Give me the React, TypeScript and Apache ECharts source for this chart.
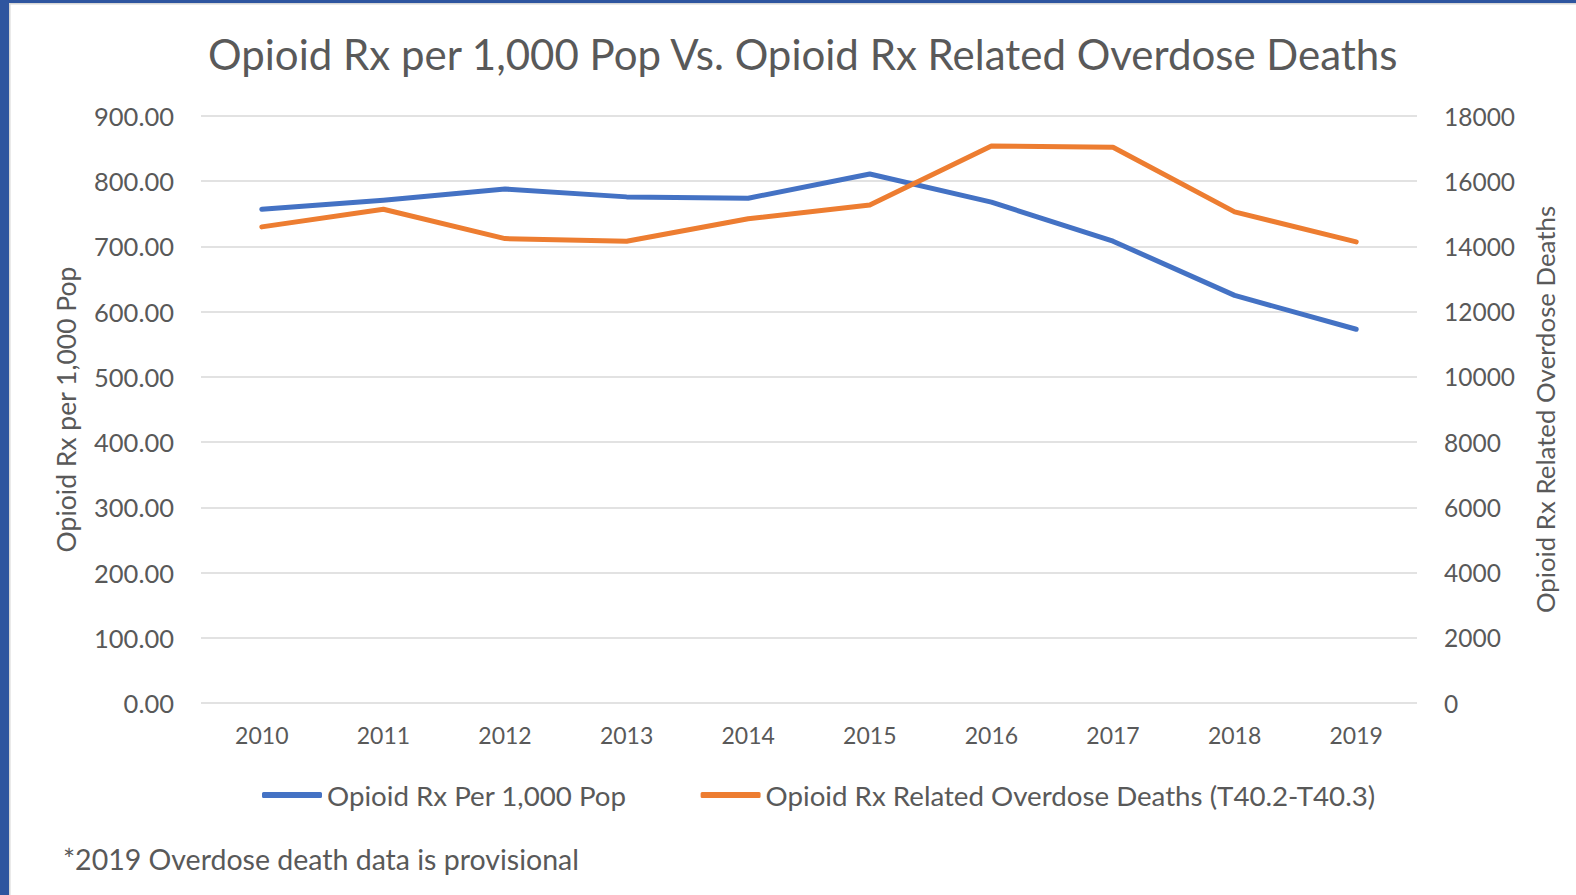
import React, { useEffect, useRef } from "react";
import * as echarts from "echarts";

const years = ["2010", "2011", "2012", "2013", "2014", "2015", "2016", "2017", "2018", "2019"];
const rxPer1000 = [757, 771, 788, 776, 774, 811, 768, 708, 625, 573];
const overdoseDeaths = [14600, 15140, 14240, 14160, 14850, 15270, 17080, 17040, 15060, 14140];

const titleText = "Opioid Rx per 1,000 Pop Vs. Opioid Rx Related Overdose Deaths";
const leftName = "Opioid Rx per 1,000 Pop";
const rightName = "Opioid Rx Related Overdose Deaths";
const seriesNames = ["Opioid Rx Per 1,000 Pop", "Opioid Rx Related Overdose Deaths (T40.2-T40.3)"];
const footnote = "*2019 Overdose death data is provisional";

const FONT = "Lato";
const TXT = "#595959";

export default function App() {
  const ref = useRef<HTMLDivElement>(null);
  useEffect(() => {
    const chart = echarts.init(ref.current!, null, { renderer: "svg" });
    chart.setOption({
      animation: false,
      backgroundColor: "#ffffff",
      textStyle: { fontFamily: FONT, color: TXT },
      title: {
        text: titleText,
        left: 203,
        top: 28,
        textStyle: { fontFamily: FONT, fontSize: 42, fontWeight: "normal", color: TXT },
      },
      grid: { left: 201, right: 159, top: 116, bottom: 192 },
      legend: {
        left: 257,
        top: 776,
        icon: "roundRect",
        itemWidth: 60,
        itemHeight: 6,
        itemGap: 74,
        textStyle: { fontFamily: FONT, fontSize: 27.7, color: TXT },
        data: seriesNames,
      },
      xAxis: {
        type: "category",
        data: years,
        boundaryGap: true,
        axisLine: { show: false },
        axisTick: { show: false },
        axisLabel: { margin: 20, fontFamily: FONT, fontSize: 23, color: TXT },
      },
      yAxis: [
        {
          type: "value",
          min: 0,
          max: 900,
          interval: 100,
          name: leftName,
          nameLocation: "middle",
          nameRotate: 90,
          nameGap: 122,
          nameTextStyle: { fontFamily: FONT, fontSize: 26.5, color: TXT },
          axisLine: { show: false },
          axisTick: { show: false },
          axisLabel: {
            margin: 27,
            fontFamily: FONT,
            fontSize: 25.5,
            color: TXT,
            formatter: (v: number) => v.toFixed(2),
          },
          splitLine: { lineStyle: { color: "#D9D9D9", width: 1.5 } },
        },
        {
          type: "value",
          min: 0,
          max: 18000,
          interval: 2000,
          name: rightName,
          nameLocation: "middle",
          nameRotate: 90,
          nameGap: 115,
          nameTextStyle: { fontFamily: FONT, fontSize: 25.8, color: TXT },
          axisLine: { show: false },
          axisTick: { show: false },
          axisLabel: {
            margin: 27,
            fontFamily: FONT,
            fontSize: 24.5,
            color: TXT,
            formatter: (v: number) => String(v),
          },
          splitLine: { show: false },
        },
      ],
      series: [
        {
          name: seriesNames[0],
          type: "line",
          yAxisIndex: 0,
          data: rxPer1000,
          symbol: "none",
          color: "#4472C4",
          lineStyle: { width: 5, color: "#4472C4", cap: "round", join: "round" },
        },
        {
          name: seriesNames[1],
          type: "line",
          yAxisIndex: 1,
          data: overdoseDeaths,
          symbol: "none",
          color: "#ED7D31",
          lineStyle: { width: 5, color: "#ED7D31", cap: "round", join: "round" },
        },
      ],
      graphic: [
        { type: "rect", shape: { x: 0, y: 0, width: 9, height: 895 }, style: { fill: "#2E559F" } },
        { type: "rect", shape: { x: 0, y: 0, width: 1576, height: 3 }, style: { fill: "#2E559F" } },
        { type: "rect", shape: { x: 9, y: 3, width: 1.5, height: 892 }, style: { fill: "#D6D6D6" } },
        { type: "rect", shape: { x: 9, y: 3, width: 1567, height: 1.5 }, style: { fill: "#D6D6D6" } },
        {
          type: "text",
          left: 63,
          top: 844,
          style: { text: footnote, fontFamily: FONT, fontSize: 28.5, fill: TXT },
        },
      ],
    });
    return () => chart.dispose();
  }, []);
  return (
    <div
      ref={ref}
      style={{ position: "absolute", left: 0, top: 0, width: 1576, height: 895, background: "#fff" }}
    />
  );
}
